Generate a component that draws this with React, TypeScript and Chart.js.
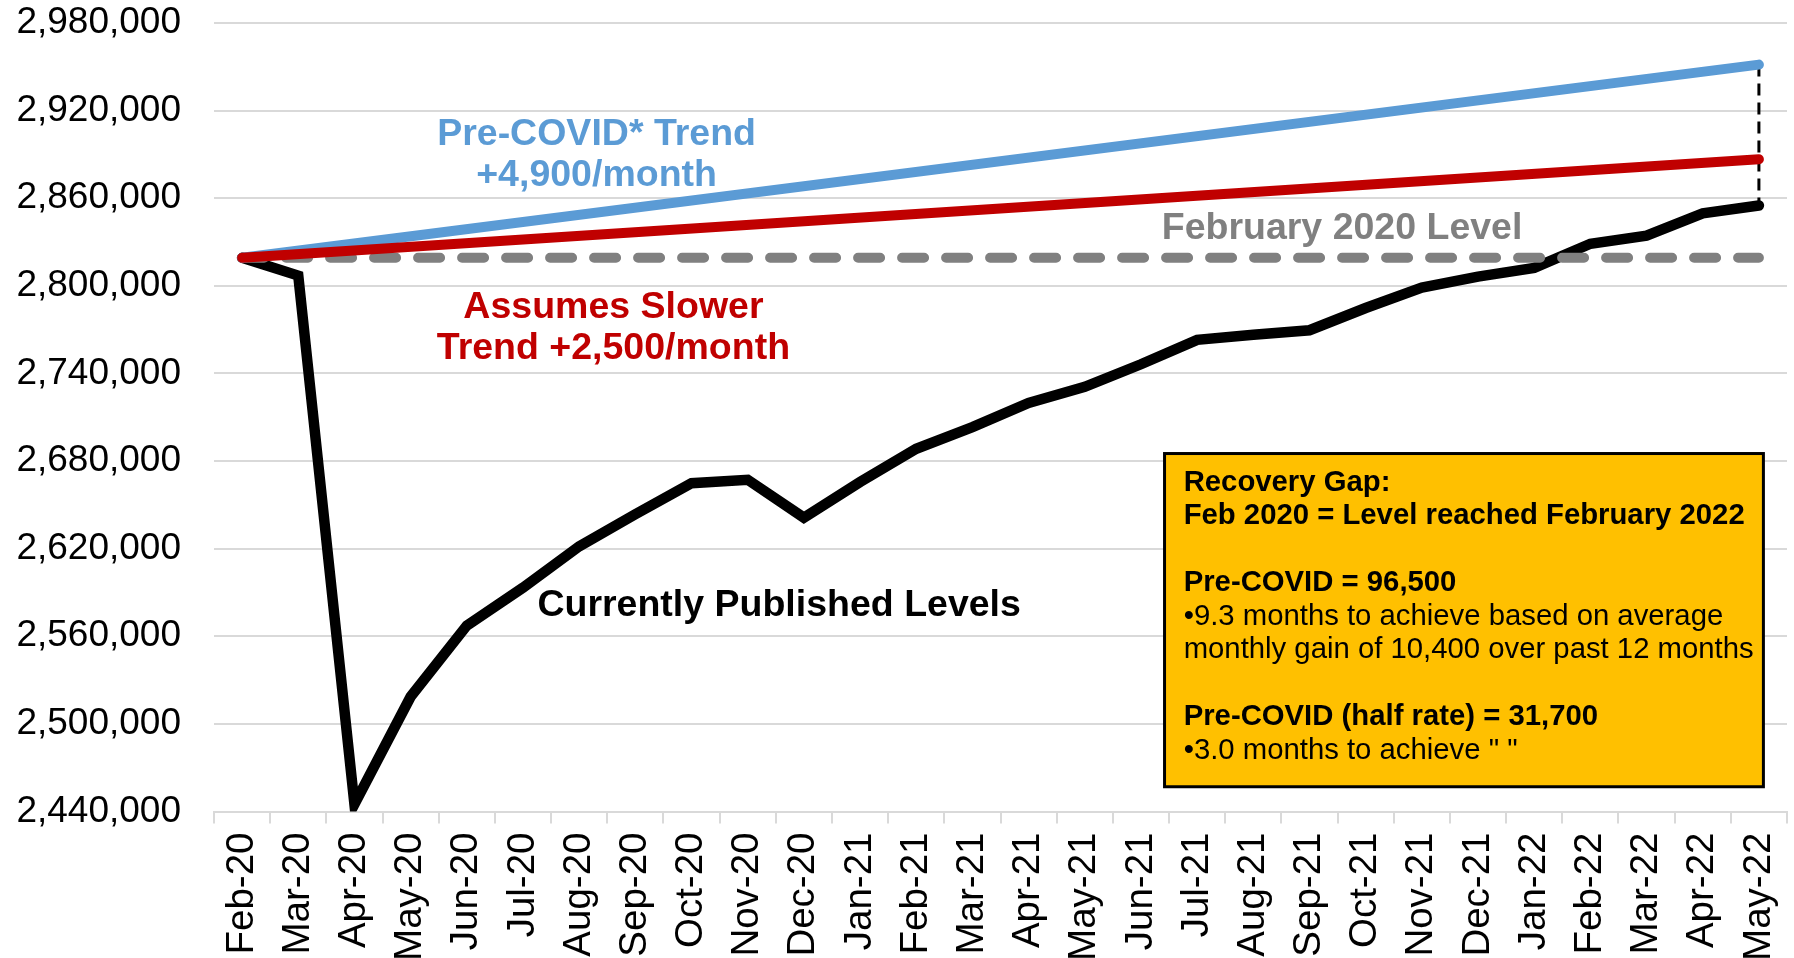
import React, { useEffect, useRef } from "react";
import { Chart, registerables } from "chart.js";

Chart.register(...registerables);

const months = [
  "Feb-20", "Mar-20", "Apr-20", "May-20", "Jun-20", "Jul-20", "Aug-20", "Sep-20", "Oct-20", "Nov-20", "Dec-20",
  "Jan-21", "Feb-21", "Mar-21", "Apr-21", "May-21", "Jun-21", "Jul-21", "Aug-21", "Sep-21", "Oct-21", "Nov-21", "Dec-21",
  "Jan-22", "Feb-22", "Mar-22", "Apr-22", "May-22",
];

const publishedLevels = [
  2819200, 2807000, 2445000, 2518600, 2567300, 2593300, 2621600, 2643600, 2664800, 2667200, 2641200,
  2665600, 2688400, 2703300, 2719800, 2730800, 2746300, 2763000, 2766500, 2769600, 2784800, 2798800, 2806300,
  2812300, 2828800, 2834400, 2849700, 2855000,
];

// Trend lines: values read at their two ends (Feb-20 and May-22)
const preCovidTrendEnds = [2819200, 2951500];
const slowerTrendEnds = [2819200, 2886700];
const feb2020LevelEnds = [2819200, 2819200];

const yTicks = [2440000, 2500000, 2560000, 2620000, 2680000, 2740000, 2800000, 2860000, 2920000, 2980000];

const FONT = "'Liberation Sans', Arial, Helvetica, sans-serif";

const ends = (vals: number[]) => [
  { x: months[0], y: vals[0] },
  { x: months[months.length - 1], y: vals[1] },
];

const textNotes = [
  { lines: ["Pre-COVID* Trend", "+4,900/month"], at: [6.31, 2903700], color: "#5B9BD5" },
  { lines: ["Assumes Slower", "Trend +2,500/month"], at: [6.61, 2784800], color: "#C00000" },
  { lines: ["February 2020 Level"], at: [19.58, 2839100], color: "#808080" },
  { lines: ["Currently Published Levels"], at: [9.56, 2580700], color: "#000000" },
];

const boxLines: { t: string; bold: boolean }[] = [
  { t: "Recovery Gap:", bold: true },
  { t: "Feb 2020 = Level reached February 2022", bold: true },
  { t: "", bold: false },
  { t: "Pre-COVID = 96,500", bold: true },
  { t: "\u20229.3 months to achieve based on average", bold: false },
  { t: "monthly gain of 10,400 over past 12 months", bold: false },
  { t: "", bold: false },
  { t: "Pre-COVID (half rate) = 31,700", bold: true },
  { t: "\u20223.0 months to achieve \" \"", bold: false },
];

const annotationPlugin = {
  id: "notes",
  beforeDatasetsDraw(chart: any) {
    const { ctx, scales } = chart;
    const xs = scales.x, ys = scales.y;
    const i = months.length - 1;
    const x = xs.getPixelForValue(i);
    const y1 = ys.getPixelForValue(preCovidTrendEnds[1]);
    const y2 = ys.getPixelForValue(publishedLevels[i]);
    ctx.save();
    ctx.strokeStyle = "#000";
    ctx.lineWidth = 3;
    ctx.setLineDash([12, 7]);
    ctx.beginPath();
    ctx.moveTo(x, y1);
    ctx.lineTo(x, y2);
    ctx.stroke();
    ctx.restore();
  },
  afterDatasetsDraw(chart: any) {
    const { ctx, scales } = chart;
    const xs = scales.x, ys = scales.y;
    ctx.save();
    ctx.textAlign = "center";
    ctx.textBaseline = "middle";
    ctx.font = `bold 37.5px ${FONT}`;
    for (const n of textNotes) {
      const cx = xs.getPixelForValue(n.at[0]);
      const cy = ys.getPixelForValue(n.at[1]);
      ctx.fillStyle = n.color;
      n.lines.forEach((l, k) => ctx.fillText(l, cx, cy + k * 41));
    }
    // recovery gap box
    const left = xs.getPixelForValue(16.42);
    const right = xs.getPixelForValue(27.08);
    const top = ys.getPixelForValue(2685150);
    const bottom = ys.getPixelForValue(2456950);
    ctx.fillStyle = "#FFC000";
    ctx.fillRect(left, top, right - left, bottom - top);
    ctx.strokeStyle = "#000";
    ctx.lineWidth = 3;
    ctx.strokeRect(left, top, right - left, bottom - top);
    ctx.textAlign = "left";
    ctx.fillStyle = "#000";
    const tx = xs.getPixelForValue(16.76);
    let ty = top + 29;
    for (const b of boxLines) {
      ctx.font = `${b.bold ? "bold " : ""}29.3px ${FONT}`;
      if (b.t) ctx.fillText(b.t, tx, ty);
      ty += 33.5;
    }
    ctx.restore();
  },
};

export default function App() {
  const ref = useRef<HTMLCanvasElement | null>(null);
  useEffect(() => {
    if (!ref.current) return;
    const chart = new Chart(ref.current, {
      type: "line",
      data: {
        labels: months,
        datasets: [
          {
            label: "Assumes Slower Trend",
            data: ends(slowerTrendEnds) as any,
            borderColor: "#C00000",
            borderWidth: 10,
            pointRadius: 0,
            borderCapStyle: "round",
            order: 0,
          },
          {
            label: "Pre-COVID Trend",
            data: ends(preCovidTrendEnds) as any,
            borderColor: "#5B9BD5",
            borderWidth: 10,
            pointRadius: 0,
            borderCapStyle: "round",
            order: 1,
          },
          {
            label: "February 2020 Level",
            data: ends(feb2020LevelEnds) as any,
            borderColor: "#808080",
            borderWidth: 10,
            borderDash: [22, 22],
            pointRadius: 0,
            borderCapStyle: "round",
            order: 2,
          },
          {
            label: "Currently Published Levels",
            data: publishedLevels,
            borderColor: "#000000",
            borderWidth: 10.5,
            pointRadius: 0,
            borderCapStyle: "round",
            borderJoinStyle: "miter",
            order: 3,
          },
        ],
      },
      options: {
        responsive: false,
        animation: false,
        devicePixelRatio: 1,
        layout: { padding: { left: 0, right: 7, top: 23, bottom: 0 } },
        plugins: { legend: { display: false }, tooltip: { enabled: false } },
        scales: {
          x: {
            type: "category",
            offset: true,
            afterFit: (axis: any) => {
              axis.paddingLeft = 0;
              axis.paddingRight = 0;
              axis.height = 146.5;
            },
            grid: {
              display: true,
              drawOnChartArea: false,
              drawTicks: true,
              tickLength: 12,
              color: "#d9d9d9",
              lineWidth: 2,
              offset: true,
            },
            border: { display: true, color: "#d9d9d9", width: 2 },
            ticks: {
              autoSkip: false,
              minRotation: 90,
              maxRotation: 90,
              padding: 9,
              color: "#000",
              font: { family: FONT, size: 38.5 },
            },
          },
          y: {
            min: yTicks[0],
            max: yTicks[yTicks.length - 1],
            afterBuildTicks: (axis: any) => {
              axis.ticks = yTicks.map((v) => ({ value: v }));
            },
            afterFit: (axis: any) => {
              axis.width = 214;
              axis.paddingTop = 0;
              axis.paddingBottom = 0;
            },
            ticks: {
              padding: 33,
              color: "#000",
              font: { family: FONT, size: 37 },
              callback: (v: any) => Number(v).toLocaleString("en-US"),
            },
            grid: { color: "#d9d9d9", lineWidth: 2, drawTicks: false },
            border: { display: false },
          },
        },
      },
      plugins: [annotationPlugin],
    });
    return () => chart.destroy();
  }, []);
  return (
    <div style={{ position: "fixed", left: 0, top: 0, width: 1794, height: 958, background: "#fff" }}>
      <canvas ref={ref} width={1794} height={958} />
    </div>
  );
}
